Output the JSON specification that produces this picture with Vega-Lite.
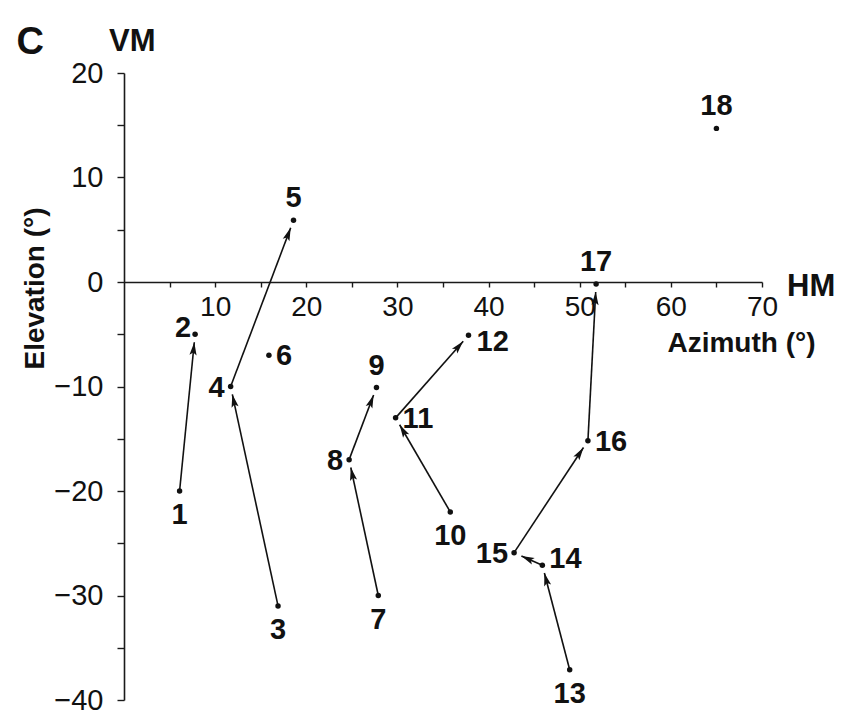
{
  "$schema": "https://vega.github.io/schema/vega-lite/v6.json",
  "width": 638,
  "height": 627,
  "autosize": "none",
  "padding": {"left": 124, "top": 73, "right": 82, "bottom": 18},
  "background": "white",
  "config": {"view": {"stroke": null}, "font": "Liberation Sans"},
  "datasets": {
    "targets": [
      {"id": 1, "az": 6.1, "el": -20.0},
      {"id": 2, "az": 7.8, "el": -5.0},
      {"id": 3, "az": 16.9, "el": -31.0},
      {"id": 4, "az": 11.7, "el": -10.0},
      {"id": 5, "az": 18.6, "el": 5.9},
      {"id": 6, "az": 15.9, "el": -7.0},
      {"id": 7, "az": 27.9, "el": -30.0},
      {"id": 8, "az": 24.7, "el": -17.0},
      {"id": 9, "az": 27.7, "el": -10.1},
      {"id": 10, "az": 35.8, "el": -22.0},
      {"id": 11, "az": 29.8, "el": -13.0},
      {"id": 12, "az": 37.8, "el": -5.1},
      {"id": 13, "az": 48.9, "el": -37.1},
      {"id": 14, "az": 45.9, "el": -27.1},
      {"id": 15, "az": 42.8, "el": -25.9},
      {"id": 16, "az": 50.9, "el": -15.2},
      {"id": 17, "az": 51.8, "el": -0.2},
      {"id": 18, "az": 65.0, "el": 14.7}
    ],
    "saccades": [
      {"from": 1, "to": 2},
      {"from": 3, "to": 4},
      {"from": 4, "to": 5},
      {"from": 7, "to": 8},
      {"from": 8, "to": 9},
      {"from": 10, "to": 11},
      {"from": 11, "to": 12},
      {"from": 13, "to": 14},
      {"from": 14, "to": 15},
      {"from": 15, "to": 16},
      {"from": 16, "to": 17}
    ],
    "meridians": [
      {"name": "VM", "az": 0.9, "el": 22.1},
      {"name": "HM", "az": 75.4, "el": -1.3}
    ],
    "panel": [
      {"name": "C", "az": -10.3, "el": 21.8}
    ]
  },
  "layer": [
    {
      "data": {"name": "targets"},
      "mark": {"type": "point", "filled": true, "color": "#111", "size": 30, "opacity": 1},
      "encoding": {
        "x": {
          "field": "az", "type": "quantitative", "title": "Azimuth (°)",
          "scale": {"domain": [0, 70], "nice": false, "zero": false},
          "axis": {
            "orient": "bottom", "offset": -418,
            "values": [5, 10, 15, 20, 25, 30, 35, 40, 45, 50, 55, 60, 65, 70],
            "format": "d",
            "labelExpr": "datum.value % 10 === 0 ? datum.label : ''",
            "grid": false,
            "domainColor": "#1a1a1a", "domainWidth": 1.6,
            "tickColor": "#1a1a1a", "tickWidth": 1.4, "tickSize": 5,
            "labelFont": "Liberation Sans", "labelFontSize": 28, "labelColor": "#111",
            "labelPadding": 6, "labelFlush": false, "labelOverlap": false,
            "title": "Azimuth (°)", "titleFont": "Liberation Sans", "titleFontSize": 28,
            "titleFontWeight": "bold", "titleColor": "#111",
            "titleX": 617, "titleY": 69, "titleAlign": "center", "titleBaseline": "alphabetic"
          }
        },
        "y": {
          "field": "el", "type": "quantitative", "title": "Elevation (°)",
          "scale": {"domain": [-40, 20], "nice": false, "zero": false},
          "axis": {
            "values": [-40, -35, -30, -25, -20, -15, -10, -5, 0, 5, 10, 15, 20],
            "format": "d",
            "labelExpr": "datum.value % 10 === 0 ? datum.label : ''",
            "grid": false,
            "domainColor": "#1a1a1a", "domainWidth": 1.6,
            "tickColor": "#1a1a1a", "tickWidth": 1.4, "tickSize": 7,
            "labelFont": "Liberation Sans", "labelFontSize": 29, "labelColor": "#111",
            "labelPadding": 14, "labelFlush": false, "labelOverlap": false,
            "title": "Elevation (°)", "titleFont": "Liberation Sans", "titleFontSize": 28,
            "titleFontWeight": "bold", "titleColor": "#111", "titleAngle": 270,
            "titleX": -81, "titleY": 215, "titleAlign": "center", "titleBaseline": "alphabetic"
          }
        }
      }
    },
    {
      "data": {"name": "saccades"},
      "transform": [
        {"lookup": "from", "from": {"data": {"name": "targets"}, "key": "id", "fields": ["az", "el"]}, "as": ["az1", "el1"]},
        {"lookup": "to", "from": {"data": {"name": "targets"}, "key": "id", "fields": ["az", "el"]}, "as": ["az2", "el2"]},
        {"calculate": "(datum.az2 - datum.az1) * 9.1143", "as": "dxPx"},
        {"calculate": "(datum.el2 - datum.el1) * 10.45", "as": "dyPx"},
        {"calculate": "sqrt(datum.dxPx * datum.dxPx + datum.dyPx * datum.dyPx)", "as": "lenPx"},
        {"calculate": "datum.az2 - (datum.az2 - datum.az1) * 8 / datum.lenPx", "as": "tipAz"},
        {"calculate": "datum.el2 - (datum.el2 - datum.el1) * 8 / datum.lenPx", "as": "tipEl"},
        {"calculate": "datum.az2 - (datum.az2 - datum.az1) * 14.5 / datum.lenPx", "as": "headAz"},
        {"calculate": "datum.el2 - (datum.el2 - datum.el1) * 14.5 / datum.lenPx", "as": "headEl"},
        {"calculate": "atan2(datum.dxPx, datum.dyPx) * 180 / PI", "as": "heading"}
      ],
      "layer": [
        {
          "mark": {"type": "rule", "color": "#111", "strokeWidth": 1.6},
          "encoding": {
            "x": {"field": "az1", "type": "quantitative", "title": "Azimuth (°)", "scale": {"domain": [0, 70], "nice": false, "zero": false}},
            "y": {"field": "el1", "type": "quantitative", "title": "Elevation (°)", "scale": {"domain": [-40, 20], "nice": false, "zero": false}},
            "x2": {"field": "tipAz"},
            "y2": {"field": "tipEl"}
          }
        },
        {
          "mark": {"type": "point", "shape": "M0,-1L0.55,1L0,0.6L-0.55,1Z", "filled": true, "color": "#111", "size": 169, "opacity": 1, "strokeWidth": 0},
          "encoding": {
            "x": {"field": "headAz", "type": "quantitative", "title": "Azimuth (°)", "scale": {"domain": [0, 70], "nice": false, "zero": false}},
            "y": {"field": "headEl", "type": "quantitative", "title": "Elevation (°)", "scale": {"domain": [-40, 20], "nice": false, "zero": false}},
            "angle": {"field": "heading", "type": "quantitative", "scale": null}
          }
        }
      ]
    },
    {
      "data": {"name": "targets"},
      "encoding": {
        "x": {"field": "az", "type": "quantitative", "title": "Azimuth (°)", "scale": {"domain": [0, 70], "nice": false, "zero": false}},
        "y": {"field": "el", "type": "quantitative", "title": "Elevation (°)", "scale": {"domain": [-40, 20], "nice": false, "zero": false}},
        "text": {"field": "id", "type": "nominal"}
      },
      "layer": [
        {
          "transform": [{"filter": {"field": "id", "oneOf": [1, 3, 7, 10, 13]}}],
          "mark": {"type": "text", "font": "Liberation Sans", "fontWeight": "bold", "fontSize": 29, "color": "#111", "align": "center", "baseline": "middle", "dy": 24}
        },
        {
          "transform": [{"filter": {"field": "id", "oneOf": [5, 9, 17, 18]}}],
          "mark": {"type": "text", "font": "Liberation Sans", "fontWeight": "bold", "fontSize": 29, "color": "#111", "align": "center", "baseline": "middle", "dy": -22}
        },
        {
          "transform": [{"filter": {"field": "id", "oneOf": [4, 8, 15]}}],
          "mark": {"type": "text", "font": "Liberation Sans", "fontWeight": "bold", "fontSize": 29, "color": "#111", "align": "right", "baseline": "middle", "dx": -6, "dy": 1}
        },
        {
          "transform": [{"filter": {"field": "id", "oneOf": [2]}}],
          "mark": {"type": "text", "font": "Liberation Sans", "fontWeight": "bold", "fontSize": 29, "color": "#111", "align": "right", "baseline": "middle", "dx": -4, "dy": -6}
        },
        {
          "transform": [{"filter": {"field": "id", "oneOf": [6, 11, 16]}}],
          "mark": {"type": "text", "font": "Liberation Sans", "fontWeight": "bold", "fontSize": 29, "color": "#111", "align": "left", "baseline": "middle", "dx": 7, "dy": 1}
        },
        {
          "transform": [{"filter": {"field": "id", "oneOf": [12]}}],
          "mark": {"type": "text", "font": "Liberation Sans", "fontWeight": "bold", "fontSize": 29, "color": "#111", "align": "left", "baseline": "middle", "dx": 8, "dy": 7}
        },
        {
          "transform": [{"filter": {"field": "id", "oneOf": [14]}}],
          "mark": {"type": "text", "font": "Liberation Sans", "fontWeight": "bold", "fontSize": 29, "color": "#111", "align": "left", "baseline": "middle", "dx": 7, "dy": -6}
        }
      ]
    },
    {
      "data": {"name": "meridians"},
      "mark": {"type": "text", "font": "Liberation Sans", "fontWeight": "bold", "fontSize": 31, "color": "#111", "align": "center", "baseline": "alphabetic"},
      "encoding": {
        "x": {"field": "az", "type": "quantitative", "title": "Azimuth (°)", "scale": {"domain": [0, 70], "nice": false, "zero": false}},
        "y": {"field": "el", "type": "quantitative", "title": "Elevation (°)", "scale": {"domain": [-40, 20], "nice": false, "zero": false}},
        "text": {"field": "name", "type": "nominal"}
      }
    },
    {
      "data": {"name": "panel"},
      "mark": {"type": "text", "font": "Liberation Sans", "fontWeight": "bold", "fontSize": 38, "color": "#111", "align": "center", "baseline": "alphabetic"},
      "encoding": {
        "x": {"field": "az", "type": "quantitative", "title": "Azimuth (°)", "scale": {"domain": [0, 70], "nice": false, "zero": false}},
        "y": {"field": "el", "type": "quantitative", "title": "Elevation (°)", "scale": {"domain": [-40, 20], "nice": false, "zero": false}},
        "text": {"field": "name", "type": "nominal"}
      }
    }
  ]
}
